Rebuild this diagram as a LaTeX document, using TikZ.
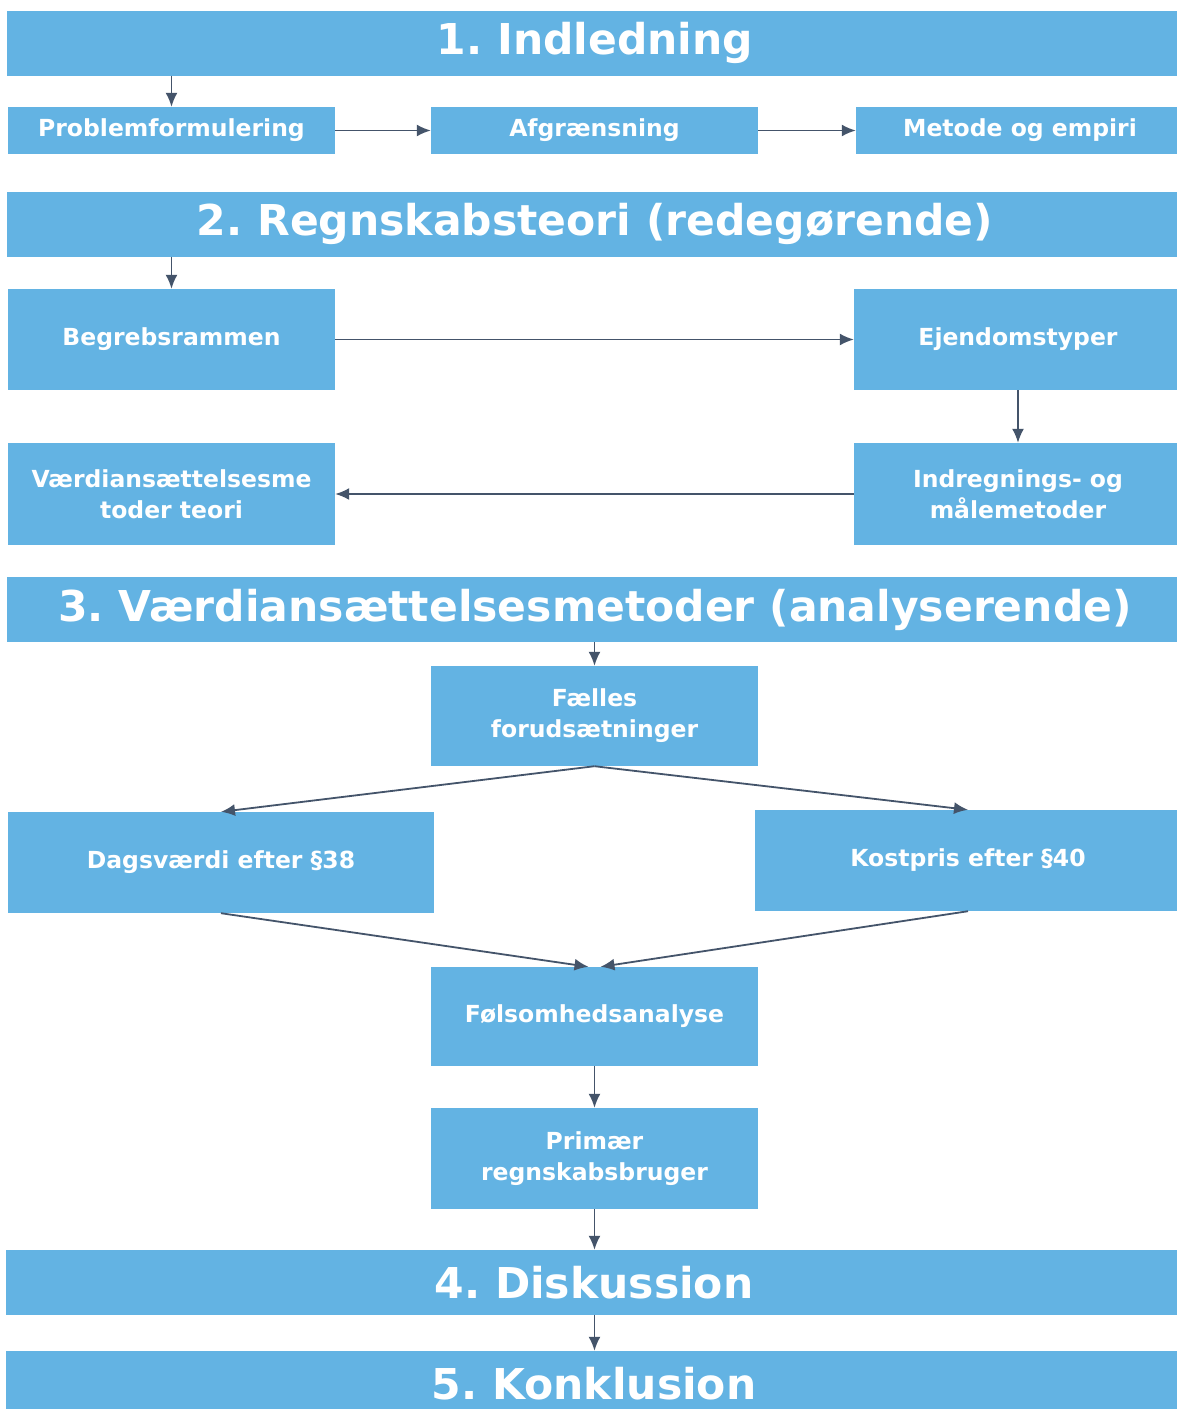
\documentclass[tikz,border=0pt]{standalone}
\usepackage{fontspec}
\setmainfont{DejaVu Sans}
\usetikzlibrary{arrows.meta}
\definecolor{boxblue}{RGB}{99,179,227}
\definecolor{arrowgray}{RGB}{68,84,106}
\frenchspacing
\tikzset{
  titlebox/.style={fill=boxblue, draw=none, text=white, font=\fontsize{42.5}{50}\selectfont\bfseries, minimum width=1176pt, minimum height=65pt, inner sep=0pt, align=center},
  smallbox/.style={fill=boxblue, draw=none, text=white, font=\fontsize{23.5}{31}\selectfont\bfseries, minimum width=327pt, inner sep=0pt, align=center},
  conn/.style={draw=arrowgray, line width=1.8pt, -{Latex[length=14pt,width=12pt]}}
}
\begin{document}
\frenchspacing
\begin{tikzpicture}[x=1pt,y=-1pt]
\useasboundingbox (0,0) rectangle (1176,1409);
\fill[white] (0,0) rectangle (1176,1409);
% titles
\node[titlebox] (t1) at (595,43) {1. Indledning};
\node[titlebox] (t2) at (595,224) {2. Regnskabsteori (redegørende)};
\node[titlebox] (t3) at (595,609.5) {3. Værdiansættelsesmetoder (analyserende)};
\node[titlebox] (t4) at (594,1282.5) {4. Diskussion};
\node[titlebox] (t5) at (594,1383.5) {5. Konklusion};
% row 1
\node[smallbox, minimum height=47pt] (prob) at (171.5,130.5) {Problemformulering};
\node[smallbox, minimum height=47pt] (afg) at (594.5,130.5) {Afgrænsning};
\node[smallbox, minimum height=47pt, minimum width=328pt] (met) at (1020,130.5) {Metode og empiri};
% section 2
\node[smallbox, minimum height=101pt] (beg) at (171.5,339.5) {Begrebsrammen};
\node[smallbox, minimum height=101pt, minimum width=328pt] (ejd) at (1018,339.5) {Ejendomstyper};
\node[smallbox, minimum height=102pt, minimum width=328pt] (ind) at (1018,494) {Indregnings- og\\målemetoder};
\node[smallbox, minimum height=102pt] (vaer) at (171.5,494) {Værdiansættelsesme\\toder teori};
% section 3
\node[smallbox, minimum height=100pt] (fael) at (594.5,716) {Fælles\\forudsætninger};
\node[smallbox, minimum height=101pt, minimum width=426pt] (dag) at (221,862.5) {Dagsværdi efter §38};
\node[smallbox, minimum height=101pt, minimum width=426pt] (kost) at (968,860.5) {Kostpris efter §40};
\node[smallbox, minimum height=99pt] (fols) at (594.5,1016.5) {Følsomhedsanalyse};
\node[smallbox, minimum height=101pt] (prim) at (594.5,1158.5) {Primær\\regnskabsbruger};
% connectors
\draw[conn] (prob.north |- t1.south) -- (prob.north);
\draw[conn] (prob.east) -- (afg.west);
\draw[conn] (afg.east) -- (met.west);
\draw[conn] (beg.north |- t2.south) -- (beg.north);
\draw[conn] (beg.east) -- (ejd.west);
\draw[conn] (ejd.south) -- (ind.north);
\draw[conn] (ind.west) -- (vaer.east);
\draw[conn] (fael.north |- t3.south) -- (fael.north);
\draw[conn] (fael.south) -- (dag.north);
\draw[conn] (fael.south) -- (kost.north);
\draw[conn] (dag.south) -- ([xshift=-6pt]fols.north);
\draw[conn] (kost.south) -- ([xshift=6pt]fols.north);
\draw[conn] (fols.south) -- (prim.north);
\draw[conn] (prim.south) -- (prim.south |- t4.north);
\draw[conn] (prim.south |- t4.south) -- (prim.south |- t5.north);
\end{tikzpicture}
\end{document}
